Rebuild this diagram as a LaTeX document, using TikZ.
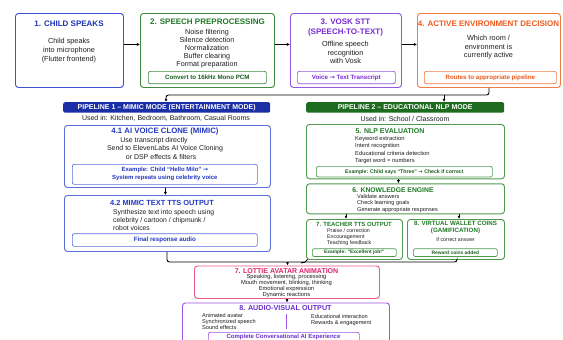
\documentclass[tikz,border=0pt]{standalone}
\usepackage{fontspec}
\setmainfont{Liberation Sans}
\newfontfamily\symf{DejaVu Sans}
\usetikzlibrary{arrows.meta,calc}
\definecolor{bB}{HTML}{3D52D5}
\definecolor{bT}{HTML}{1F33B5}
\definecolor{gB}{HTML}{3F8A3F}
\definecolor{gT}{HTML}{1F7A25}
\definecolor{gD}{HTML}{1A5E1E}
\definecolor{vB}{HTML}{9457E0}
\definecolor{vT}{HTML}{7A2BD6}
\definecolor{oB}{HTML}{F07D45}
\definecolor{oT}{HTML}{EF5A1E}
\definecolor{pF}{HTML}{1A2EA5}
\definecolor{pB}{HTML}{5B6FD9}
\definecolor{pT}{HTML}{2437C2}
\definecolor{qF}{HTML}{1C6B1F}
\definecolor{qB}{HTML}{4F9A4F}
\definecolor{rB}{HTML}{E85A86}
\definecolor{rT}{HTML}{E0246C}
\definecolor{aB}{HTML}{9C55E6}
\definecolor{aT}{HTML}{6A2FCC}
\definecolor{ink}{HTML}{1E1E1E}
\newcommand\myfs[2]{\fontsize{#1pt}{#2pt}\selectfont}
\newcommand\rarr{{\symf →}}
\begin{document}
\begin{tikzpicture}[x=1pt,y=-1pt,
  box/.style={draw, rounded corners=3pt, line width=0.95pt, inner sep=0pt, anchor=north west},
  ibox/.style={draw, rounded corners=2pt, line width=0.7pt, inner sep=0pt, anchor=north west, align=center},
  hdr/.style={rounded corners=2pt, inner sep=0pt, anchor=north west, text=white, font=\bfseries\myfs{7}{8}},
  lbl/.style={inner sep=0pt, text=ink},
  ttl/.style={inner sep=0pt, font=\bfseries\myfs{8}{10}, align=center},
  conn/.style={line width=0.9pt, draw=black},
  arr/.style={conn, -{Latex[length=3.2pt,width=3.2pt]}},
]
\fill[white] (0,0) rectangle (563,340);
\useasboundingbox (0,0) rectangle (563,340);
\clip (0,0) rectangle (563,340);

% ---------- top row ----------
\node[box, draw=bB, minimum width=108pt, minimum height=74pt] (b1) at (15,13) {};
\node[box, draw=gB, minimum width=134pt, minimum height=74pt] (b2) at (140,13) {};
\node[box, draw=vB, minimum width=111pt, minimum height=74pt] (b3) at (290,13) {};
\node[box, draw=oB, minimum width=143pt, minimum height=74pt] (b4) at (417,13) {};

\node[ttl, text=bT] (t1) at (69,24) {1. CHILD SPEAKS};
\node[ttl, text=gT] (t2) at (207.5,22) {2. SPEECH PREPROCESSING};
\node[ttl, text=vT] (t3) at (345.5,27.5) {3. VOSK STT\\(SPEECH-TO-TEXT)};
\node[ttl, text=oT] (t4) at (488.5,23.3) {4. ACTIVE ENVIRONMENT DECISION};

\node[lbl, align=center, font=\myfs{7.3}{9.3}] (d1) at (69,50.5) {Child speaks\\into microphone\\(Flutter frontend)};
\node[lbl, align=center, font=\myfs{7.2}{8.1}] (d2) at (207,48.5) {Noise filtering\\Silence detection\\Normalization\\Buffer clearing\\Format preparation};
\node[lbl, align=center, font=\myfs{7.3}{8.8}] (d3) at (345.5,52.5) {Offline speech\\recognition\\with Vosk};
\node[lbl, align=center, font=\myfs{7.3}{8.4}] (d4) at (488.5,47.5) {Which room /\\environment is\\currently active};

\node[ibox, draw=gB, text=gD, font=\bfseries\myfs{6.2}{7}, minimum width=118pt, minimum height=12.3pt] (i2) at (148,71) {Convert to 16kHz Mono PCM};
\node[ibox, draw=vB, text=vT, font=\bfseries\myfs{6.2}{7}, minimum width=98pt, minimum height=12.3pt] (i3) at (297,71) {Voice \rarr{} Text Transcript};
\node[ibox, draw=oB, text=oT, font=\bfseries\myfs{6.2}{7}, minimum width=132pt, minimum height=12.3pt] (i4) at (424,71) {Routes to appropriate pipeline};

\draw[arr] ([yshift=6pt]b1.east) -- ([yshift=6pt]b2.west);
\draw[arr] ([yshift=6pt]b2.east) -- ([yshift=6pt]b3.west);
\draw[arr] ([yshift=6pt]b3.east) -- ([yshift=6pt]b4.west);

% ---------- pipeline headers ----------
\node[hdr, fill=pF, minimum width=207pt, minimum height=10.5pt] (p1) at (63,102) {PIPELINE 1 – MIMIC MODE (ENTERTAINMENT MODE)};
\node[hdr, fill=qF, minimum width=198pt, minimum height=10.5pt] (p2) at (306,102) {PIPELINE 2 – EDUCATIONAL NLP MODE};

\coordinate (j4) at (489,95);
\coordinate (j1) at (166,95);
\coordinate (j2) at (444,95);
\draw[arr, rounded corners=2.5pt] (b4.south -| j4) -- (j4) -- (j1) -- (p1.north -| j1);
\draw[arr] (j2) -- (p2.north -| j2);

\node[lbl, font=\myfs{7}{8}] (u1) at (166,118.5) {Used in: Kitchen, Bedroom, Bathroom, Casual Rooms};
\node[lbl, font=\myfs{7}{8}] (u2) at (405,119) {Used in: School / Classroom};

% ---------- pipeline 1 ----------
\node[box, draw=pB, minimum width=206pt, minimum height=62pt] (a41) at (64,125) {};
\node[ttl, text=pT, font=\bfseries\myfs{7.8}{9}] (t41) at (165,131) {4.1 AI VOICE CLONE (MIMIC)};
\node[lbl, font=\myfs{7}{8}] (l41a) at (154,141) {Use transcript directly};
\node[lbl, font=\myfs{7}{8}] (l41b) at (165,149) {Send to ElevenLabs AI Voice Cloning};
\node[lbl, font=\myfs{7}{8}] (l41c) at (161,157) {or DSP effects \& filters};
\node[ibox, draw=pB, text=pT, font=\bfseries\myfs{6}{8}, minimum width=185pt, minimum height=20pt] (e41) at (72,164) {Example: Child “Hello Milo” \rarr\\System repeats using celebrity voice};

\node[box, draw=pB, minimum width=206pt, minimum height=56pt] (a42) at (64,195) {};
\draw[arr] ([xshift=-2pt]a41.south) -- ([xshift=-2pt]a42.north);
\node[ttl, text=pT, font=\bfseries\myfs{7.4}{9}] (t42) at (162,203.3) {4.2 MIMIC TEXT TTS OUTPUT};
\node[lbl, anchor=west, align=left, font=\myfs{6.8}{7.7}] (l42) at (113,220) {Synthesize text into speech using\\celebrity / cartoon / chipmunk /\\robot voices};
\node[ibox, draw=pB, text=pT, font=\bfseries\myfs{6.2}{7}, minimum width=185pt, minimum height=12.7pt] (e42) at (72,233.3) {Final response audio};

% ---------- pipeline 2 ----------
\node[box, draw=qB, minimum width=198pt, minimum height=54.3pt] (p5) at (306,124) {};
\node[ttl, text=gT, font=\bfseries\myfs{7}{8}] (t5) at (390,131) {5. NLP EVALUATION};
\node[lbl, anchor=west, align=left, font=\myfs{5.8}{7.1}] (l5) at (355,150) {Keyword extraction\\Intent recognition\\Educational criteria detection\\Target word = numbers};
\node[ibox, draw=qB, text=gD, font=\bfseries\myfs{5.2}{6}, minimum width=176pt, minimum height=10.7pt] (e5) at (316,166) {Example: Child says “Three” \rarr{} Check if correct};

\node[box, draw=qB, minimum width=198pt, minimum height=30pt] (b6) at (306,183.3) {};
\draw[arr] ([xshift=-7pt]p5.south) -- ([xshift=-7pt]b6.north);
\node[ttl, text=gT, font=\bfseries\myfs{6.8}{8}] (t6) at (393,190) {6. KNOWLEDGE ENGINE};
\node[lbl, anchor=west, align=left, font=\myfs{5.6}{6.7}] (l6) at (357,203.3) {Validate answers\\Check learning goals\\Generate appropriate responses};

\node[box, draw=qB, minimum width=96pt, minimum height=40pt] (t7) at (306,219) {};
\node[box, draw=qB, minimum width=97pt, minimum height=40pt] (w8) at (407,219) {};
\coordinate (x7) at (346,0);
\coordinate (x8) at (459,0);
\draw[arr] (b6.south -| x7) -- (t7.north -| x7);
\draw[arr] (b6.south -| x8) -- (w8.north -| x8);

\node[ttl, text=gT, font=\bfseries\myfs{6}{7}] (tt7) at (354,224.2) {7. TEACHER TTS OUTPUT};
\node[lbl, anchor=west, align=left, font=\myfs{5.3}{6}] (l7) at (327,237) {Praise / correction\\Encouragement\\Teaching feedback};
\node[ibox, draw=qB, text=gD, font=\bfseries\myfs{4.9}{6}, minimum width=84pt, minimum height=7.9pt] (e7) at (312,248.3) {Example: “Excellent job!”};

\node[ttl, text=gT, font=\bfseries\myfs{6.2}{7}] (tw8) at (455.5,227.6) {8. VIRTUAL WALLET COINS\\(GAMIFICATION)};
\node[lbl, font=\myfs{5.2}{6}] (l8) at (455.5,239.3) {If correct answer};
\node[ibox, draw=qB, text=gD, font=\bfseries\myfs{4.9}{6}, minimum width=84pt, minimum height=7.9pt] (e8) at (413,248.3) {Reward coins added};

% ---------- merge to Lottie ----------
\node[box, draw=rB, minimum width=185pt, minimum height=32.5pt] (lt) at (194,265.5) {};
\coordinate (k1) at (167,262);
\coordinate (k2) at (457,262);
\coordinate (k3) at (287.5,262);
\draw[conn, rounded corners=2.5pt] (a42.south -| k1) -- (k1) -- (k2) -- (w8.south -| k2);
\draw[conn] ($(t7.south west)+(1.5,-0.5)$) to[out=-115,in=0] ($(t7.south west)+(-5,3)$);
\draw[arr] (k3) -- (lt.north -| k3);

\node[ttl, text=rT, font=\bfseries\myfs{7}{8}] (tlt) at (286.5,271) {7. LOTTIE AVATAR ANIMATION};
\node[lbl, align=center, font=\myfs{5.8}{5.9}] (llt) at (286.5,286.2) {Speaking, listening, processing\\Mouth movement, blinking, thinking\\Emotional expression\\Dynamic reactions};

% ---------- audio-visual output ----------
\node[box, draw=aB, minimum width=207pt, minimum height=50pt] (av) at (182,302.5) {};
\draw[arr] (lt.south) -- (lt.south |- av.north);
\node[ttl, text=aT, font=\bfseries\myfs{7.2}{8}] (tav) at (285.5,308.3) {8. AUDIO-VISUAL OUTPUT};
\node[lbl, anchor=west, align=left, font=\myfs{5.6}{6}] (lav1) at (202,321) {Animated avatar\\Synchronized speech\\Sound effects};
\draw[line width=0.6pt, draw=aB] (286,314) -- (286,329);
\node[lbl, anchor=west, align=left, font=\myfs{5.6}{6.3}] (lav2) at (311,320) {Educational interaction\\Rewards \& engagement};
\node[ibox, draw=aB, minimum width=151pt, minimum height=16pt] (eav) at (208,332) {};
\node[ttl, text=aT, font=\bfseries\myfs{6}{7}] (teav) at (283.5,336.5) {Complete Conversational AI Experience};
\end{tikzpicture}
\end{document}
